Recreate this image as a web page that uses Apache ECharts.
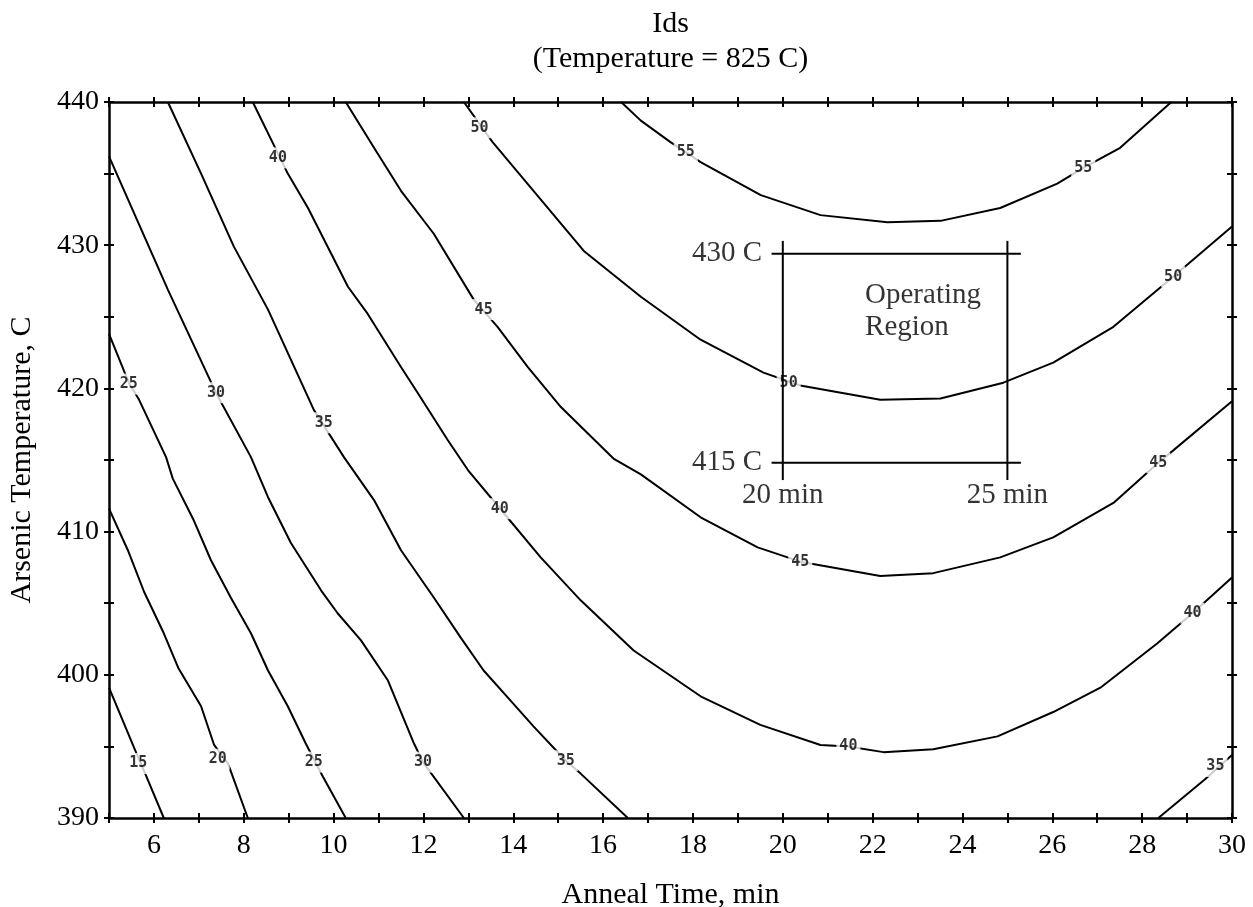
<!DOCTYPE html>
<html>
<head>
<meta charset="utf-8">
<script src="https://cdn.jsdelivr.net/npm/echarts/dist/echarts.min.js"></script>
<style>
html,body{margin:0;padding:0;background:#fff;}
#chart{width:1253px;height:907px;}
</style>
</head>
<body>
<div id="chart"></div>
<script>
// ---- data ----
const xTickValues = [6, 8, 10, 12, 14, 16, 18, 20, 22, 24, 26, 28, 30];
const yTickValues = [390, 400, 410, 420, 430, 440];

const contour15 = [[5,399.1],[5.56,394.9],[5.82,393.0],[6.22,390]];
const contour20 = [[5,411.6],[5.42,408.7],[5.78,405.8],[6.22,402.9],[6.54,400.5],[7.05,397.8],[7.34,395.1],[7.65,393.8],[8.09,390]];
const contour25 = [[5,423.8],[5.44,420.4],[5.67,419.2],[6.27,415.2],[6.42,413.7],[6.87,410.9],[7.27,408.0],[7.71,405.4],[8.16,402.9],[8.54,400.3],[8.98,397.8],[9.38,395.2],[9.76,392.9],[10.27,390]];
const contour30 = [[5,436.2],[6.31,426.9],[7.38,419.7],[8.16,415.2],[8.54,412.4],[9.05,409.2],[9.72,405.9],[10.09,404.3],[10.61,402.4],[11.21,399.6],[11.79,395.2],[11.99,393.9],[12.9,390]];
const contour35 = [[6.31,440],[7.05,435.0],[7.78,429.9],[8.54,425.5],[9.56,418.5],[10.23,415.2],[10.9,412.2],[11.5,408.7],[12.23,405.4],[12.83,402.6],[13.34,400.3],[13.94,398.2],[14.45,396.4],[15.17,394.0],[15.5,393.1],[16.55,390]];
const contour35b = [[28.36,390],[29.4,392.7],[30,394.4]];
const contour40 = [[8.2,440],[8.98,435.0],[9.43,432.6],[10.32,427.1],[10.76,425.2],[11.5,421.5],[11.87,419.7],[12.54,416.4],[12.99,414.3],[13.68,411.7],[14.61,408.2],[15.5,405.2],[16.68,401.7],[18.17,398.5],[19.5,396.5],[20.84,395.1],[21.46,395.0],[22.24,394.6],[23.35,394.8],[24.78,395.7],[26.02,397.4],[27.07,399.1],[28.34,402.2],[29.12,404.3],[30,406.8]];
const contour45 = [[10.27,440],[10.9,436.8],[11.5,433.8],[12.23,430.8],[13.12,426.2],[13.65,424.3],[14.32,421.5],[15.06,418.7],[16.23,415.1],[16.84,414.0],[18.17,411.0],[19.44,408.9],[20.39,407.9],[22.17,406.9],[23.35,407.1],[24.84,408.2],[26.02,409.6],[27.36,412.0],[28.36,414.8],[30,419.1]];
const contour50 = [[12.9,440],[13.54,437.2],[14.45,433.8],[15.57,429.6],[16.84,426.4],[18.17,423.4],[19.57,421.1],[20.39,420.2],[22.17,419.2],[23.51,419.3],[24.91,420.4],[26.02,421.8],[27.36,424.3],[28.69,427.8],[30,431.3]];
const contour55 = [[16.4,440],[16.84,438.7],[17.5,437.2],[17.84,436.5],[18.17,435.8],[19.51,433.5],[20.84,432.1],[22.33,431.6],[23.51,431.7],[24.84,432.6],[26.11,434.3],[26.69,435.4],[27.51,436.8],[28.65,440]];

const contourLabels = [
  [5.65,393.8,'15'],[7.42,394.1,'20'],[5.44,420.3,'25'],[9.56,393.9,'25'],
  [7.38,419.7,'30'],[11.99,393.9,'30'],[9.78,417.6,'35'],[15.17,394.0,'35'],
  [29.63,393.6,'35'],[8.76,436.1,'40'],[13.70,411.6,'40'],[21.46,395.0,'40'],
  [29.12,404.3,'40'],[13.34,425.5,'45'],[20.39,407.9,'45'],[28.36,414.8,'45'],
  [13.25,438.2,'50'],[20.13,420.4,'50'],[28.69,427.8,'50'],[17.84,436.5,'55'],
  [26.69,435.4,'55']
];

// operating region (anneal time, arsenic temperature)
const regionTimes = [20, 25];
const regionTemps = [414.8, 429.4];
const regionTimeSpan = [19.75, 25.3];
const regionTempSpan = [413.6, 430.3];

// ---- chart ----
const SERIF = "'Liberation Serif','Times New Roman',serif";
const GRID = {left: 109, right: 21, top: 102, bottom: 89, containLabel: false, outerBoundsMode: 'none'};
const chart = echarts.init(document.getElementById('chart'), null, {renderer: 'canvas'});

function xAxisDef(position, inside, main) {
  return {
    type: 'value', min: 5, max: 30, interval: 1, position: position,
    axisLine: {show: main, onZero: false, lineStyle: {color: '#000', width: 2.5}},
    axisTick: {show: true, inside: inside, length: 5, lineStyle: {color: '#000', width: 2}},
    axisLabel: {
      show: main && position === 'bottom', margin: 14, color: '#000', fontSize: 28, fontFamily: SERIF,
      formatter: v => (xTickValues.indexOf(v) >= 0 ? String(v) : '')
    },
    splitLine: {show: false},
    name: (main && position === 'bottom') ? 'Anneal Time, min' : '',
    nameLocation: 'middle', nameGap: 62,
    nameTextStyle: {color: '#000', fontSize: 30, fontFamily: SERIF}
  };
}
function yAxisDef(position, inside, main) {
  return {
    type: 'value', min: 390, max: 440, interval: 5, position: position,
    axisLine: {show: main, onZero: false, lineStyle: {color: '#000', width: 2.5}},
    axisTick: {show: true, inside: inside, length: 5, lineStyle: {color: '#000', width: 2}},
    axisLabel: {
      show: main && position === 'left', margin: 10, color: '#000', fontSize: 28, fontFamily: SERIF,
      formatter: v => (yTickValues.indexOf(v) >= 0 ? String(v) : '')
    },
    splitLine: {show: false},
    name: (main && position === 'left') ? 'Arsenic Temperature, C' : '',
    nameLocation: 'middle', nameGap: 72,
    nameTextStyle: {color: '#000', fontSize: 30, fontFamily: SERIF}
  };
}

const contourSets = [contour15, contour20, contour25, contour30, contour35, contour35b, contour40, contour45, contour50, contour55];

const series = contourSets.map(d => ({
  type: 'line', data: d, symbol: 'none', smooth: false, clip: true, z: 2,
  lineStyle: {color: '#000', width: 2}, silent: true
}));

series.push({
  type: 'scatter', z: 5, symbol: 'circle', symbolSize: 1,
  itemStyle: {color: 'rgba(0,0,0,0)'}, silent: true,
  data: contourLabels.map(p => ({value: [p[0], p[1]], name: p[2]})),
  label: {
    show: true, position: 'inside', formatter: '{b}', color: '#000',
    fontFamily: "'DejaVu Sans Mono',monospace", fontWeight: 'bold', fontSize: 15,
    backgroundColor: '#fff', padding: [3, 3]
  }
});

// operating region box (drawn over labels)
const boxSegs = [
  [[regionTimeSpan[0], regionTemps[1]], [regionTimeSpan[1], regionTemps[1]]],
  [[regionTimeSpan[0], regionTemps[0]], [regionTimeSpan[1], regionTemps[0]]],
  [[regionTimes[0], regionTempSpan[1]], [regionTimes[0], regionTempSpan[0]]],
  [[regionTimes[1], regionTempSpan[1]], [regionTimes[1], regionTempSpan[0]]]
];
boxSegs.forEach(s => series.push({
  type: 'line', data: s, symbol: 'none', z: 6, silent: true,
  lineStyle: {color: '#000', width: 2}
}));

// region annotations
const annoStyle = {show: true, color: '#000', fontFamily: SERIF, fontSize: 29};
series.push({
  type: 'scatter', z: 7, symbolSize: 1, itemStyle: {color: 'rgba(0,0,0,0)'}, silent: true,
  data: [
    {value: [19.55, regionTemps[1]], label: Object.assign({}, annoStyle, {formatter: '430 C', position: 'left', distance: 0, align: 'right'})},
    {value: [19.55, regionTemps[0]], label: Object.assign({}, annoStyle, {formatter: '415 C', position: 'left', distance: 0, align: 'right'})},
    {value: [regionTimes[0], 412.5], label: Object.assign({}, annoStyle, {formatter: '20 min', position: 'inside'})},
    {value: [regionTimes[1], 412.5], label: Object.assign({}, annoStyle, {formatter: '25 min', position: 'inside'})},
    {value: [21.82, 425.4], label: Object.assign({}, annoStyle, {formatter: 'Operating\nRegion', position: 'right', distance: 0, align: 'left', lineHeight: 32})}
  ]
});

const plotCenterX = GRID.left + (1253 - GRID.left - GRID.right) / 2;

chart.setOption({
  animation: false,
  backgroundColor: '#fff',
  grid: GRID,
  xAxis: [xAxisDef('bottom', false, true), xAxisDef('bottom', true, false), xAxisDef('top', false, true), xAxisDef('top', true, false)],
  yAxis: [yAxisDef('left', false, true), yAxisDef('left', true, false), yAxisDef('right', false, true), yAxisDef('right', true, false)],
  graphic: [{
    type: 'text', x: plotCenterX, y: 7, silent: true,
    style: {text: 'Ids\n(Temperature = 825 C)', textAlign: 'center', fill: '#000',
            font: "30px 'Liberation Serif','Times New Roman',serif", lineHeight: 35}
  }],
  series: series
});
</script>
</body>
</html>
